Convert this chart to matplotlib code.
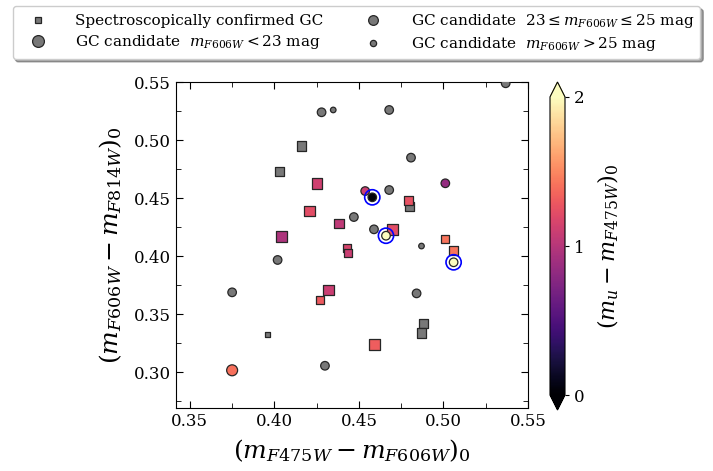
import numpy as np
import matplotlib
matplotlib.use('Agg')
import matplotlib.pyplot as plt
from matplotlib.lines import Line2D

plt.rcParams['font.family'] = 'DejaVu Serif'
plt.rcParams['mathtext.fontset'] = 'dejavuserif'

# spectroscopically confirmed GCs (squares); colour NaN = no u-band colour (grey)
conf_x = [0.4161, 0.4029, 0.4252, 0.4210, 0.4382, 0.4040, 0.4792, 0.4800, 0.4699, 0.5011,
          0.5060, 0.4428, 0.4433, 0.4321, 0.4271, 0.3960, 0.4880, 0.4869, 0.4591]
conf_y = [0.4948, 0.4727, 0.4627, 0.4388, 0.4278, 0.4166, 0.4477, 0.4428, 0.4227, 0.4147,
          0.4046, 0.4066, 0.4023, 0.3707, 0.3618, 0.3325, 0.3416, 0.3336, 0.3235]
conf_umg = [np.nan, np.nan, 1.12, 1.22, 1.04, 0.96, 1.25, np.nan, 1.22, 1.42,
            1.42, 1.16, 1.10, 1.10, 1.30, np.nan, np.nan, np.nan, 1.32]
conf_mag = ['mid', 'mid', 'bright', 'bright', 'mid', 'bright', 'mid', 'mid', 'bright', 'faint',
            'mid', 'faint', 'faint', 'bright', 'faint', 'tiny', 'mid', 'mid', 'bright']

# GC candidates (circles)
cand_x = [0.4279, 0.4348, 0.5368, 0.4679, 0.4808, 0.5011, 0.4537, 0.4579, 0.4679, 0.4470,
          0.4589, 0.4660, 0.4870, 0.5060, 0.4841, 0.4019, 0.3750, 0.3750, 0.4299]
cand_y = [0.5239, 0.5259, 0.5489, 0.5259, 0.4848, 0.4627, 0.4560, 0.4506, 0.4569, 0.4336,
          0.4230, 0.4175, 0.4086, 0.3946, 0.3678, 0.3966, 0.3687, 0.3015, 0.3054]
cand_umg = [np.nan, np.nan, np.nan, np.nan, np.nan, 0.84, 1.10, 0.04, np.nan, np.nan,
            np.nan, 2.05, np.nan, 2.05, np.nan, np.nan, np.nan, 1.40, np.nan]
cand_mag = ['mid', 'faint', 'mid', 'mid', 'mid', 'mid', 'mid', 'mid', 'mid', 'mid',
            'mid', 'mid', 'faint', 'mid', 'mid', 'mid', 'mid', 'bright', 'mid']
cand_ring = [False, False, False, False, False, False, False, True, False, False,
             False, True, False, True, False, False, False, False, False]

SQ_SIZE = {'bright': 62, 'mid': 44, 'faint': 34, 'tiny': 16}
CI_SIZE = {'bright': 62, 'mid': 38, 'faint': 16}
GREY = '0.47'
EDGE = '0.15'
CMAP = 'magma'

fig = plt.figure(figsize=(7.13, 4.71), dpi=100)
ax = fig.add_axes([176 / 713, 1 - 408 / 471, 352 / 713, 326 / 471])
cax = fig.add_axes([550 / 713, 1 - 410 / 471, 15 / 713, 328 / 471])

norm = plt.Normalize(0, 2)


def draw(xs, ys, cs, mags, sizes, marker, z):
    xs, ys, cs = np.array(xs), np.array(ys), np.array(cs)
    s = np.array([sizes[m] for m in mags])
    grey = np.isnan(cs)
    ax.scatter(xs[grey], ys[grey], s=s[grey], marker=marker, color=GREY,
               edgecolors=EDGE, linewidths=0.9, zorder=z)
    return ax.scatter(xs[~grey], ys[~grey], s=s[~grey], marker=marker, c=cs[~grey],
                      cmap=CMAP, norm=norm, edgecolors=EDGE, linewidths=0.9, zorder=z)


sc = draw(conf_x, conf_y, conf_umg, conf_mag, SQ_SIZE, 's', 3)
draw(cand_x, cand_y, cand_umg, cand_mag, CI_SIZE, 'o', 4)

ring = np.array(cand_ring)
ax.scatter(np.array(cand_x)[ring], np.array(cand_y)[ring], s=120, marker='o',
           facecolors='none', edgecolors='blue', linewidths=1.2, zorder=5)

ax.set_xlim(0.3418, 0.55)
ax.set_ylim(0.269, 0.55)
ax.set_xticks([0.35, 0.40, 0.45, 0.50, 0.55])
ax.set_yticks([0.30, 0.35, 0.40, 0.45, 0.50, 0.55])
ax.set_xticks(np.arange(0.35, 0.551, 0.025), minor=True)
ax.set_yticks(np.arange(0.275, 0.551, 0.025), minor=True)
ax.tick_params(which='both', direction='in', top=True, right=True, labelsize=12)
ax.tick_params(which='major', length=5)
ax.tick_params(which='minor', length=3.5)
ax.set_xlabel(r'$(m_{F475W} - m_{F606W})_0$', fontsize=18, labelpad=5)
ax.set_ylabel(r'$(m_{F606W} - m_{F814W})_0$', fontsize=18, labelpad=7)

cb = fig.colorbar(sc, cax=cax, extend='both', ticks=[0, 1, 2])
cb.ax.tick_params(labelsize=12, length=3)
cb.set_label(r'$(m_u - m_{F475W})_0$', fontsize=16, labelpad=8)

handles = [
    Line2D([], [], ls='none', marker='s', ms=5, mfc=GREY, mec=EDGE, mew=0.9),
    Line2D([], [], ls='none', marker='o', ms=8.5, mfc=GREY, mec=EDGE, mew=0.9),
    Line2D([], [], ls='none', marker='o', ms=7, mfc=GREY, mec=EDGE, mew=0.9),
    Line2D([], [], ls='none', marker='o', ms=4.5, mfc=GREY, mec=EDGE, mew=0.9),
]
labels = [
    'Spectroscopically confirmed GC',
    r'GC candidate  $m_{F606W} < 23$ mag',
    r'GC candidate  $23 \leq m_{F606W} \leq 25$ mag',
    r'GC candidate  $m_{F606W} > 25$ mag',
]
fig.legend(handles, labels, loc='upper center', bbox_to_anchor=(0.5, 1.003), ncol=2,
           fontsize=11, shadow=True, borderpad=0.4, handletextpad=1.2,
           labelspacing=0.3, columnspacing=2.0, handlelength=2.5)

fig.savefig('out.png', dpi=100)
